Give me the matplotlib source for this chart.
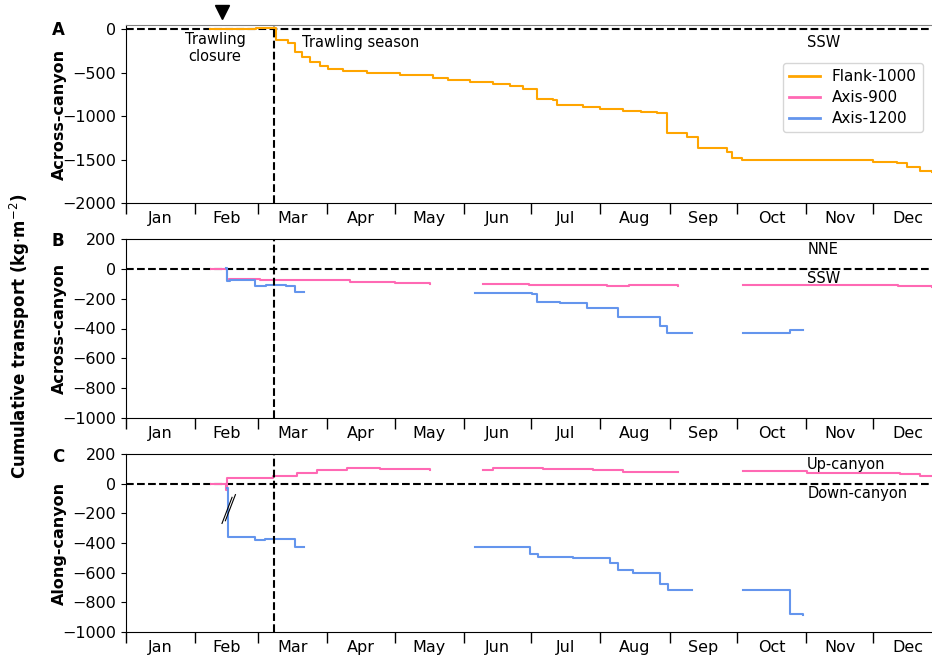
import numpy as np
import matplotlib
matplotlib.use("Agg")
import matplotlib.pyplot as plt
from matplotlib.lines import Line2D

# ===== data (day of year, cumulative transport kg m-2) =====
months = ["Jan", "Feb", "Mar", "Apr", "May", "Jun",
          "Jul", "Aug", "Sep", "Oct", "Nov", "Dec"]
month_start = [0, 31, 59, 90, 120, 151, 181, 212, 243, 273, 304, 334]
month_len = [31, 28, 31, 30, 31, 30, 31, 31, 30, 31, 30, 31]

nan = np.nan

# A: across-canyon, Flank-1000
flank_day = [37.5, 48, 58, 67.0, 72.4, 75.5, 78.7, 82.2, 86.7, 90.3, 97.0, 107.7,
             122.5, 137.2, 143.9, 153.7, 159.6, 164.0, 171.6, 177.4, 183.7, 190.8,
             192.6, 204.2, 211.8, 222.1, 230, 237.3, 241.8, 250.7, 255.6, 268.6,
             270.8, 275.3, 298.1, 333.9, 344.6, 349.1, 354.9, 360.2]
flank_val = [0, 5, 10, -118, -160, -260, -318, -375, -425, -452, -483, -498,
             -529, -560, -586, -601, -605, -625, -655, -682, -797, -816,
             -866, -893, -912, -943, -955, -969, -1199, -1238, -1371, -1410,
             -1487, -1506, -1510, -1532, -1544, -1583, -1632, -1640]

# B: across-canyon, Axis-900 / Axis-1200
a900_b_day = [37.9, 45.0, 46, 60, 75, 100, 120, 135.9, nan,
              159.4, 180, 207, 215, 225, 246.7, nan,
              275.6, 300, 330, 345, 360.2]
a900_b_val = [0, -76, -70, -72, -78, -85, -92, -100, nan,
              -105, -108, -110, -115, -108, -112, nan,
              -110, -110, -108, -112, -123]

a1200_b_day = [44.7, 45.3, 46.5, 57.7, 62.5, 71.6, 75.5, 79.5, nan,
               156.0, 181.3, 183.5, 194.0, 205.9, 219.9, 238.7, 241.7, 252.8, nan,
               275.6, 296.7, 302.7]
a1200_b_val = [5, -83, -72, -118, -108, -115, -155, -158, nan,
               -159, -166, -222, -230, -260, -320, -383, -430, -433, nan,
               -432, -412, -412]

# C: along-canyon, Axis-900 / Axis-1200
a900_c_day = [37.9, 44.2, 44.7, 45.0, 65.7, 76.4, 85.4, 98.8, 113.5, 135.9, nan,
              159.4, 164.0, 186.4, 208.7, 222.1, 246.7, nan,
              275.6, 304.2, 345.9, 354.9, 360.2]
a900_c_val = [0, 0, -45, 38, 49, 74, 89, 103, 98, 89, nan,
              89, 105, 101, 89, 78, 78, nan,
              85, 74, 62, 51, 53]

a1200_c_day = [45.2, 45.8, 57.7, 62.0, 75.5, 79.6, nan,
               156.0, 180.6, 184.1, 199.8, 216.3, 219.9, 226.6, 238.7, 242.2, 253.0, nan,
               275.6, 296.7, 302.6]
a1200_c_val = [-30, -358, -380, -372, -429, -429, nan,
               -425, -476, -492, -503, -537, -582, -600, -676, -716, -716, nan,
               -716, -877, -888]

closure_day = 66
arrow_day = 42.9

C_FLANK = "orange"
C_900 = "hotpink"
C_1200 = "cornflowerblue"

plt.rcParams["font.family"] = "DejaVu Sans"
plt.rcParams["font.size"] = 10.5

fig = plt.figure(figsize=(9.32, 6.55), dpi=100)
L, W = 126 / 932, 1 - 126 / 932
axA = fig.add_axes([L, 1 - 203 / 655, W, 178 / 655])
axB = fig.add_axes([L, 1 - 418 / 655, W, 179 / 655])
axC = fig.add_axes([L, 1 - 632 / 655, W, 178 / 655])

axA.step(flank_day, flank_val, where="post", color=C_FLANK, lw=1.5)
axB.step(a900_b_day, a900_b_val, where="post", color=C_900, lw=1.5)
axB.step(a1200_b_day, a1200_b_val, where="post", color=C_1200, lw=1.5)
axC.step(a900_c_day, a900_c_val, where="post", color=C_900, lw=1.5)
axC.step(a1200_c_day, a1200_c_val, where="post", color=C_1200, lw=1.5)

axA.set_ylim(-2000, 50)
axA.set_yticks([0, -500, -1000, -1500, -2000])
for ax in (axB, axC):
    ax.set_ylim(-1000, 200)
    ax.set_yticks([200, 0, -200, -400, -600, -800, -1000])

mids = [s + n / 2 for s, n in zip(month_start, month_len)]
for ax in (axA, axB, axC):
    ax.set_xlim(0, 360.2)
    ax.axhline(0, color="black", ls="--", lw=1.5, zorder=0)
    ax.axvline(closure_day, color="black", ls="--", lw=1.5)
    ax.set_xticks(month_start)
    ax.set_xticklabels([])
    ax.set_xticks(mids, minor=True)
    ax.set_xticklabels(months, minor=True)
    ax.tick_params(axis="x", which="major", length=8, width=1)
    ax.tick_params(axis="x", which="minor", length=0, pad=6, labelsize=11.5)
    ax.spines["right"].set_visible(False)
    ax.tick_params(axis="y", labelsize=11.5)
axA.spines["top"].set_color("grey")

axA.set_ylabel("Across-canyon", fontweight="bold", fontsize=11.5)
axB.set_ylabel("Across-canyon", fontweight="bold", fontsize=11.5)
axC.set_ylabel("Along-canyon", fontweight="bold", fontsize=11.5)
for ax in (axA, axB, axC):
    ax.yaxis.set_label_coords(-0.073, 0.5)

# text annotations
axA.text(39.8, -215, "Trawling\nclosure", ha="center", va="center", linespacing=1.1)
axA.text(78.7, -150, "Trawling season", ha="left", va="center")
axA.text(304.4, -150, "SSW", ha="left", va="center")
axB.text(304.4, 128, "NNE", ha="left", va="center")
axB.text(304.4, -67, "SSW", ha="left", va="center")
axC.text(304.4, 130, "Up-canyon", ha="left", va="center")
axC.text(304.4, -65, "Down-canyon", ha="left", va="center")

axA.plot([arrow_day], [1.073], marker="v", color="black", markersize=10,
         transform=axA.get_xaxis_transform(), clip_on=False)

# break marks on the Axis-1200 drop
axC.plot([42.9, 47.4], [-268, -92], color="black", lw=0.8)
axC.plot([44.4, 48.9], [-250, -74], color="black", lw=0.8)

handles = [Line2D([], [], color=C_FLANK, lw=2),
           Line2D([], [], color=C_900, lw=2),
           Line2D([], [], color=C_1200, lw=2)]
axA.legend(handles, ["Flank-1000", "Axis-900", "Axis-1200"],
           loc="upper right", bbox_to_anchor=(0.998, 0.83), fontsize=11,
           labelspacing=0.4)

fig.text(58 / 932, 1 - 30 / 655, "A", fontweight="bold", fontsize=12, ha="center", va="center")
fig.text(58 / 932, 1 - 241 / 655, "B", fontweight="bold", fontsize=12, ha="center", va="center")
fig.text(58 / 932, 1 - 457 / 655, "C", fontweight="bold", fontsize=12, ha="center", va="center")
fig.text(20 / 932, 0.487, "Cumulative transport (kg$\\cdot$m$^{-2}$)", rotation=90,
         fontweight="bold", fontsize=12, ha="center", va="center")

fig.savefig("out.png", dpi=100)
